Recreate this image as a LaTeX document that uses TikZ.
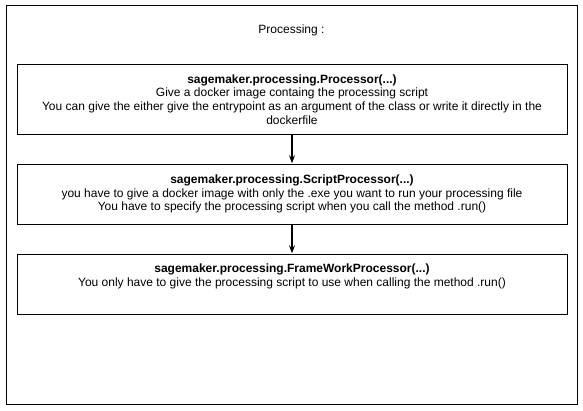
\documentclass[tikz,border=0pt]{standalone}
\usepackage{fontspec}
\setmainfont{Liberation Sans}
\usetikzlibrary{arrows.meta}

\begin{document}
\begin{tikzpicture}[x=1pt,y=-1pt,line width=0.9pt,>=Stealth,
  font=\fontsize{12}{13.6}\selectfont,
  stepbox/.style={draw,rectangle,minimum width=550pt,align=center,inner sep=0pt},
  flow/.style={->,line width=1.1pt,shorten >=0.3pt}]
\useasboundingbox (0,0) rectangle (583,411);
% 外框
\node[draw,minimum width=571pt,minimum height=399pt,inner sep=0pt] (frame) at (291.5,204.5) {};
% 标题
\node (title) at (291.5,30) {Processing :};
% 三个处理器
\node[stepbox,minimum height=70pt] (proc) at (292,99.5)
  {\textbf{sagemaker.processing.Processor(...)}\\
   Give a docker image containg the processing script\\
   You can give the either give the entrypoint as an argument of the class or write it directly in the\\
   dockerfile};
\node[stepbox,minimum height=60pt] (script) at (292,194)
  {\textbf{sagemaker.processing.ScriptProcessor(...)}\\
   you have to give a docker image with only the .exe you want to run your processing file\\
   You have to specify the processing script when you call the method .run()};
\node[stepbox,minimum height=60pt] (fw) at (292,284)
  {\textbf{sagemaker.processing.FrameWorkProcessor(...)}\\
   You only have to give the processing script to use when calling the method .run()\\
   \strut};
% 箭头
\draw[flow] (proc) -- (script);
\draw[flow] (script) -- (fw);
\end{tikzpicture}
\end{document}
